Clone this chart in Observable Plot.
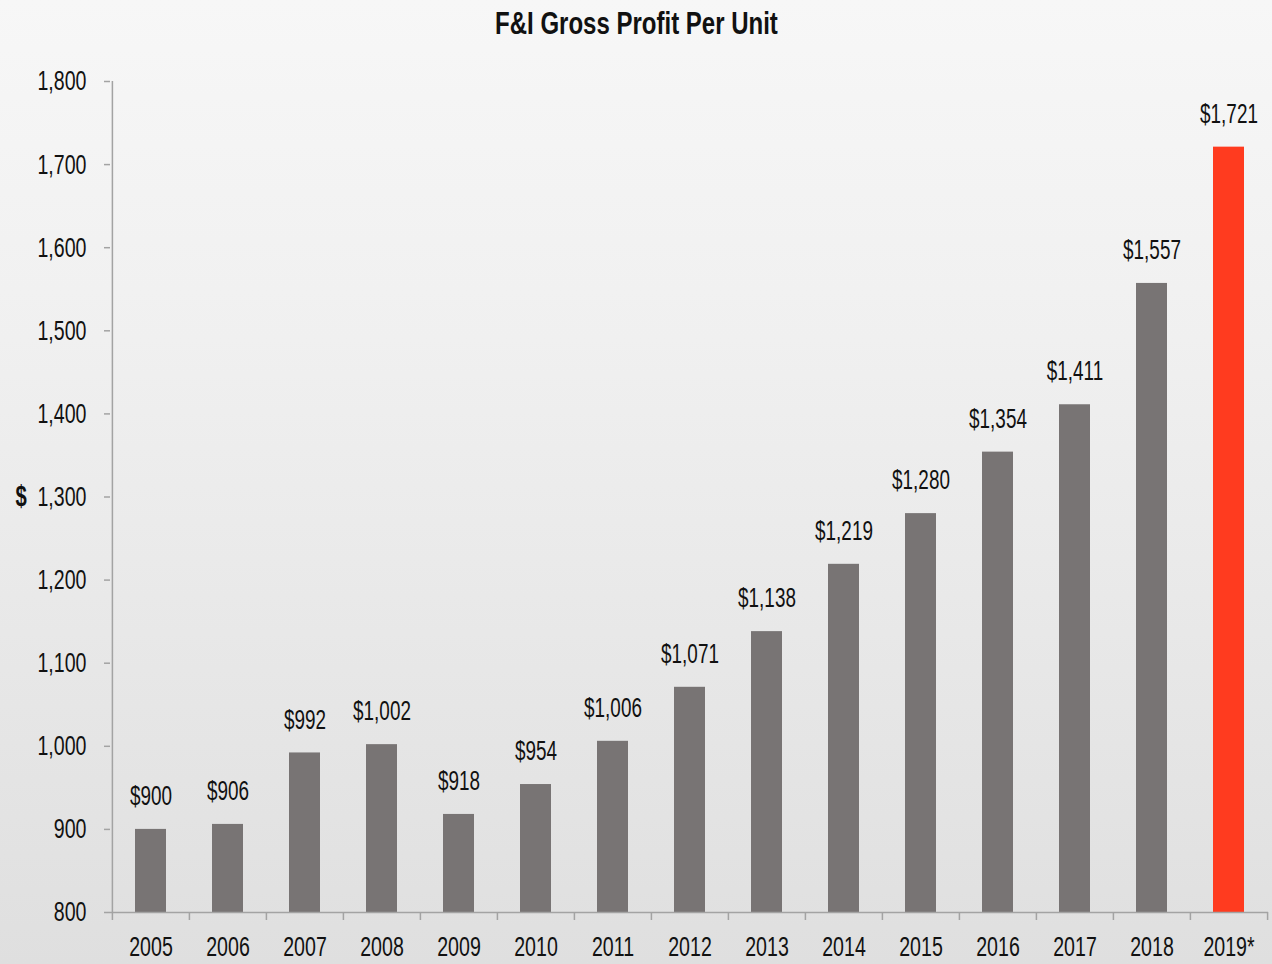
<!DOCTYPE html>
<html><head><meta charset="utf-8">
<script src="https://cdn.jsdelivr.net/npm/d3@7"></script>
<script src="https://cdn.jsdelivr.net/npm/@observablehq/plot@0.6"></script>
<style>
html,body{margin:0;padding:0;}
body{width:1272px;height:964px;overflow:hidden;
  background:linear-gradient(to bottom,#f7f7f7 0%,#f0f0f0 35%,#dfdfdf 100%);
  font-family:"Liberation Sans",Arial,sans-serif;color:#111}
#titlebar{height:45px;text-align:center;}
#title{display:inline-block;line-height:46px;font-weight:bold;font-size:32px;color:#111;
  transform:scaleX(0.75);transform-origin:center;white-space:nowrap}
</style></head><body>
<div id="titlebar"><span id="title"></span></div>
<div id="chart"></div>
<script>
const years = ["2005","2006","2007","2008","2009","2010","2011","2012","2013","2014","2015","2016","2017","2018","2019*"];
const values = [900, 906, 992, 1002, 918, 954, 1006, 1071, 1138, 1219, 1280, 1354, 1411, 1557, 1721];
const highlightYear = "2019*";
const yTicks = [800, 900, 1000, 1100, 1200, 1300, 1400, 1500, 1600, 1700, 1800];
const yLabel = "$";
const title = "F&I Gross Profit Per Unit";

document.getElementById("title").textContent = title;

const W = 1272, H = 919, ML = 110, MR = 4, MT = 36, MB = 52;
const step = (W - ML - MR) / years.length;
const yMin = yTicks[0], yMax = yTicks[yTicks.length - 1];
const pxPerUnit = (H - MT - MB) / (yMax - yMin);
const tickLenUnits = 8 / pxPerUnit;
const data = years.map((y, i) => ({year: y, value: values[i]}));
const font = '"Liberation Sans",Arial,sans-serif';
const axisColor = "#a3a3a3";

const plot = Plot.plot({
  width: W, height: H,
  marginLeft: ML, marginRight: MR, marginTop: MT, marginBottom: MB,
  style: {background: "transparent", fontFamily: font, color: "#111", overflow: "visible"},
  x: {domain: years, paddingInner: 0.6, paddingOuter: 0.3, label: null},
  y: {domain: [yMin, yMax], label: null},
  color: {type: "identity"},
  marks: [
    Plot.barY(data, {x: "year", y1: yMin, y2: "value",
      fill: d => d.year === highlightYear ? "#ff3b1f" : "#787474"}),
    Plot.ruleX([years[0]], {dx: -step / 2, y1: yMin, y2: yMax, stroke: axisColor, strokeWidth: 1.5}),
    Plot.ruleY([yMin], {stroke: axisColor, strokeWidth: 1.5}),
    Plot.ruleX(years, {x: d => d, dx: -step / 2, y1: yMin, y2: yMin - tickLenUnits, stroke: axisColor, strokeWidth: 1.5}),
    Plot.ruleX([years[years.length - 1]], {dx: step / 2, y1: yMin, y2: yMin - tickLenUnits, stroke: axisColor, strokeWidth: 1.5}),
    Plot.axisY({ticks: yTicks, tickSize: 6, tickPadding: 18, tickFormat: d3.format(","),
      fontSize: 28, stroke: axisColor, strokeWidth: 1.5, label: null}),
    Plot.axisX({tickSize: 0, tickPadding: 24, fontSize: 28, label: null}),
    Plot.text(data, {x: "year", y: "value", text: d => "$" + d3.format(",")(d.value),
      dy: -33, fontSize: 27, lineAnchor: "middle", fill: "#111"}),
    Plot.text([yLabel], {frameAnchor: "left", dx: -95, fontWeight: "bold", fontSize: 29, fill: "#111"})
  ]
});
document.getElementById("chart").appendChild(plot);

// condense all chart texts horizontally around their anchor point (like a narrow font)
const squeeze = 0.7;
plot.querySelectorAll("text").forEach(t => {
  const x = parseFloat(t.getAttribute("x")) || 0;
  const tr = t.getAttribute("transform") || "";
  t.setAttribute("transform", `${tr} translate(${x},0) scale(${squeeze},1) translate(${-x},0)`);
});
</script>
</body></html>
